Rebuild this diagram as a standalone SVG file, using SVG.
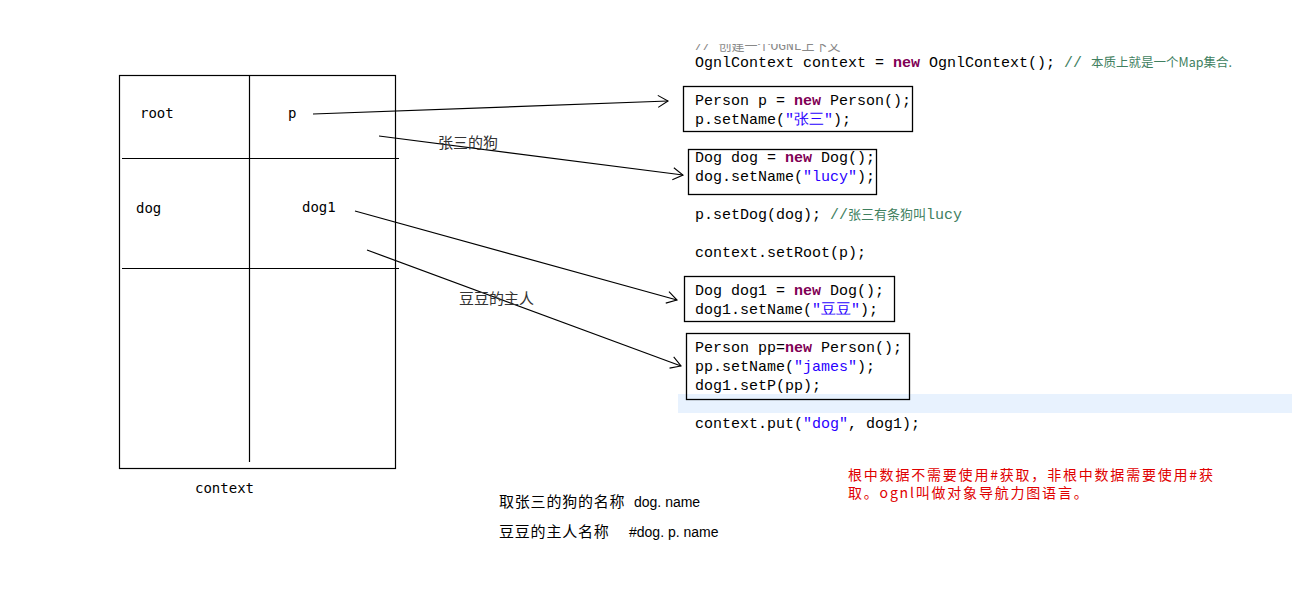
<svg xmlns="http://www.w3.org/2000/svg" width="1292" height="605" viewBox="0 0 1292 605">
<style>
.ln{stroke:#000;stroke-width:1.2;fill:none}
.box{stroke:#000;stroke-width:1.3;fill:none}
.code{font-family:"Liberation Mono","DejaVu Sans Mono",monospace;font-size:15px;fill:#000}
.kw{fill:#7f0055;font-weight:bold}
.str{fill:#2a00ff}
.cm{fill:#3f7f5f}
.lbl{font-family:"DejaVu Sans Mono","Liberation Mono",monospace;font-size:14px;fill:#000}
.zh{font-family:"Noto Sans CJK SC",sans-serif;font-size:15px;fill:#333}
.red{font-family:"Noto Sans CJK SC",sans-serif;font-size:14px;letter-spacing:1.8px;fill:#e00000}
.txt{font-family:"Noto Sans CJK SC",sans-serif;font-size:15px;letter-spacing:0.8px;fill:#000}
.lat{font-family:"Liberation Sans",sans-serif;font-size:14px;fill:#000}
</style>
<defs>
<marker id="ah" markerWidth="14" markerHeight="14" refX="12" refY="7" orient="auto" markerUnits="userSpaceOnUse">
<path d="M2,1 L12,7 L2,13" fill="none" stroke="#000" stroke-width="1.1"/>
</marker>
<clipPath id="topclip"><rect x="680" y="44" width="400" height="10"/></clipPath>
</defs>
<rect width="1292" height="605" fill="#fff"/>
<g id="context-table">
<rect x="119.5" y="75.5" width="276" height="393" class="ln"/>
<line x1="249.5" y1="75" x2="249.5" y2="462" class="ln"/>
<line x1="122" y1="158.5" x2="399" y2="158.5" class="ln"/>
<line x1="122" y1="268.5" x2="399" y2="268.5" class="ln"/>
<text x="140" y="118" class="lbl">root</text>
<text x="288" y="118" class="lbl">p</text>
<text x="136" y="213" class="lbl">dog</text>
<text x="302" y="212" class="lbl">dog1</text>
<text x="195" y="493" class="lbl">context</text>
</g>
<g id="connectors">
<line x1="313" y1="114" x2="668" y2="101" class="ln" marker-end="url(#ah)"/>
<line x1="379" y1="136" x2="683" y2="175" class="ln" marker-end="url(#ah)"/>
<line x1="355" y1="211" x2="677" y2="300" class="ln" marker-end="url(#ah)"/>
<line x1="367" y1="250" x2="681" y2="366" class="ln" marker-end="url(#ah)"/>
<text x="438" y="148" class="zh">张三的狗</text>
<text x="459" y="304" class="zh">豆豆的主人</text>
</g>
<g id="code-header">
<text x="695" y="50" clip-path="url(#topclip)" style="font-family:'Liberation Mono','Noto Sans CJK SC',monospace;font-size:13px;fill:#888">// 创建一个OGNL上下文</text>
<text x="695" y="67" class="code">OgnlContext context = <tspan class="kw">new</tspan> OgnlContext(); <tspan class="cm">// </tspan><tspan class="cm" style="font-family:'Noto Sans CJK SC',sans-serif;font-size:12.5px">本质上就是一个Map集合.</tspan></text>
</g>
<g id="person-p">
<rect x="683.5" y="86.5" width="229" height="45" class="box"/>
<text x="695" y="105" class="code">Person p = <tspan class="kw">new</tspan> Person();</text>
<text x="695" y="124" class="code">p.setName(<tspan class="str">"张三"</tspan>);</text>
</g>
<g id="dog-dog">
<rect x="688.5" y="149.5" width="188" height="45" class="box"/>
<text x="695" y="162" class="code">Dog dog = <tspan class="kw">new</tspan> Dog();</text>
<text x="695" y="181" class="code">dog.setName(<tspan class="str">"lucy"</tspan>);</text>
</g>
<g id="code-mid">
<text x="695" y="219" class="code">p.setDog(dog); <tspan class="cm">//</tspan><tspan class="cm" style="font-family:'Noto Sans CJK SC',sans-serif;font-size:13px">张三有条狗叫</tspan><tspan class="cm">lucy</tspan></text>
<text x="695" y="257" class="code">context.setRoot(p);</text>
</g>
<g id="dog-dog1">
<rect x="684.5" y="276.5" width="210" height="45" class="box"/>
<text x="695" y="295" class="code">Dog dog1 = <tspan class="kw">new</tspan> Dog();</text>
<text x="695" y="314" class="code">dog1.setName(<tspan class="str">"豆豆"</tspan>);</text>
</g>
<rect x="678" y="394" width="614" height="19" fill="#e8f2fe"/>
<g id="person-pp">
<rect x="686.5" y="333.5" width="223" height="66" class="box"/>
<text x="695" y="352" class="code">Person pp=<tspan class="kw">new</tspan> Person();</text>
<text x="695" y="371" class="code">pp.setName(<tspan class="str">"james"</tspan>);</text>
<text x="695" y="390" class="code">dog1.setP(pp);</text>
</g>
<g id="code-put">
<text x="695" y="428" class="code">context.put(<tspan class="str">"dog"</tspan>, dog1);</text>
</g>
<g id="note">
<text x="848" y="480" class="red">根中数据不需要使用#获取，非根中数据需要使用#获</text>
<text x="848" y="498" class="red">取。ognl叫做对象导航力图语言。</text>
</g>
<g id="bottom-notes">
<text x="499" y="507" class="txt">取张三的狗的名称</text>
<text x="634" y="507" class="lat">dog. name</text>
<text x="499" y="537" class="txt">豆豆的主人名称</text>
<text x="629" y="537" class="lat">#dog. p. name</text>
</g>
</svg>
